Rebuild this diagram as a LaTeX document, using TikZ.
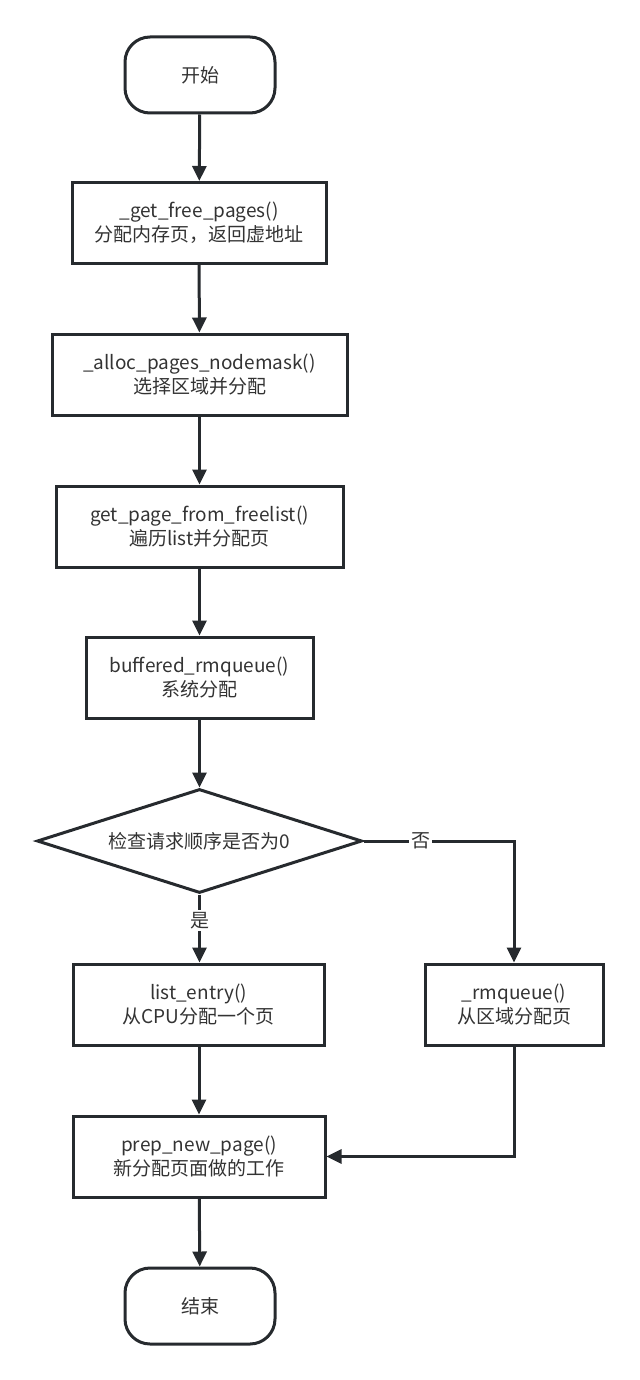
\documentclass[tikz,border=0pt]{standalone}
\usepackage{fontspec}
\setmainfont{Noto Sans CJK SC}
\usetikzlibrary{shapes.geometric, arrows.meta, calc}

\definecolor{lineclr}{HTML}{262A2E}
\definecolor{txtclr}{HTML}{333333}

\tikzset{
  base/.style={draw=lineclr, line width=1.5pt, text=txtclr, font=\fontsize{9.5}{12}\selectfont, align=center, inner sep=0pt},
  terminal/.style={base, rectangle, rounded corners=12.5pt, minimum width=75pt, minimum height=38pt},
  process/.style={base, rectangle, minimum height=40.5pt},
  decision/.style={base, diamond, minimum width=162.5pt, minimum height=52pt, shape aspect=3.125},
  flow/.style={draw=lineclr, line width=1.5pt, -{Triangle[length=7.5pt,width=7pt]}},
  tag/.style={fill=white, text=txtclr, font=\fontsize{9.5}{12}\selectfont, inner sep=1pt}
}

\begin{document}
\begin{tikzpicture}[x=0.5pt, y=-0.5pt]
      \useasboundingbox (0,0) rectangle (640,1380);

      \node[terminal] (start) at (200,75) {开始};
      \node[process, minimum width=127pt] (getfree) at (199,223) {\_get\_free\_pages()\\分配内存页，返回虚地址};
      \node[process, minimum width=147.5pt] (nodemask) at (199.5,374.5) {\_alloc\_pages\_nodemask()\\选择区域并分配};
      \node[process, minimum width=143.5pt] (freelist) at (199.5,526.5) {get\_page\_from\_freelist()\\遍历list并分配页};
      \node[process, minimum width=113.5pt] (buffered) at (199.5,677.5) {buffered\_rmqueue()\\系统分配};
      \node[decision] (check) at (199.5,841) {检查请求顺序是否为0};
      \node[process, minimum width=125.5pt] (listentry) at (198.5,1004.5) {list\_entry()\\从CPU分配一个页};
      \node[process, minimum width=89pt] (rmqueue) at (514,1004.5) {\_rmqueue()\\从区域分配页};
      \node[process, minimum width=126pt] (prep) at (199,1156.5) {prep\_new\_page()\\新分配页面做的工作};
      \node[terminal] (stop) at (200,1306) {结束};

      \draw[flow] (start) -- (getfree);
      \draw[flow] (getfree) -- (nodemask);
      \draw[flow] (nodemask) -- (freelist);
      \draw[flow] (freelist) -- (buffered);
      \draw[flow] (buffered) -- (check);
      \draw[flow] (check.south) -- (listentry.north -| check.south) node[tag, pos=0.38] {是};
      \draw[flow] (check.east) -- (check.east -| rmqueue) node[tag, pos=0.38] {否} -- (rmqueue.north);
      \draw[flow] (listentry.south -| prep.north) -- (prep.north);
      \draw[flow] (rmqueue.south) |- (prep.east);
      \draw[flow] (prep) -- (stop);
    \end{tikzpicture}
\end{document}
